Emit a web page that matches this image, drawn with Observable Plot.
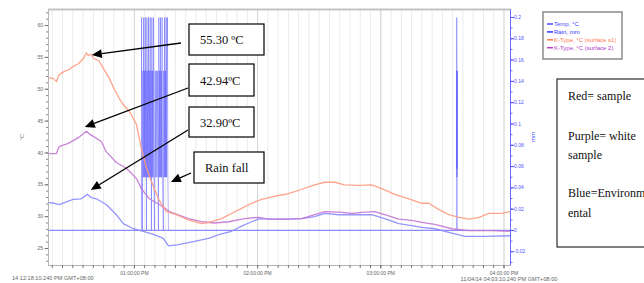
<!DOCTYPE html>
<html>
<head>
<meta charset="utf-8">
<script src="https://cdn.jsdelivr.net/npm/d3@7"></script>
<script src="https://cdn.jsdelivr.net/npm/@observablehq/plot@0.6"></script>
<style>
  html, body { margin: 0; padding: 0; background: #fff; }
  #chart svg { display: block; }
</style>
</head>
<body>
<div id="chart"></div>
<script>
// ---- Data (time = minutes after 12:00 PM, 11/04/14) ----
const startMin = 18.17;   // 12:18:10 PM
const endMin = 243.17;    // 04:03:10 PM

const redS1 = [ // K-Type, °C (surface s1)
  [18.5,51.8],[20.5,51.7],[22.0,51.2],[23.4,52.3],[25.9,52.8],[28.3,53.1],[30.2,53.6],[32.7,54.0],
  [35.1,54.8],[36.6,55.7],[37.6,55.3],[39.0,55.5],[40.0,54.9],[42.9,54.4],[45.0,53.2],[47.8,51.7],
  [50.2,50.0],[52.7,48.5],[55.0,47.4],[57.6,46.5],[61.0,44.5],[63.4,40.7],[65.9,37.6],[68.3,35.5],
  [71.7,32.8],[75.6,30.8],[80.5,30.3],[86.3,29.5],[92.7,28.9],[97.6,29.2],[102.4,29.7],[107.3,30.5],
  [112.2,31.3],[117.1,32.1],[122.0,32.7],[128.3,33.2],[135.1,33.6],[141.5,34.3],[147.8,35.0],
  [152.7,35.4],[157.6,35.4],[162.4,35.0],[169.3,34.9],[175.6,35.0],[180.5,34.4],[186.8,33.5],
  [193.7,32.8],[200.0,32.1],[203.4,32.1],[208.3,31.1],[213.2,30.3],[218.0,29.9],[222.9,29.6],
  [227.8,29.9],[232.7,30.5],[239.0,30.5],[243.1,30.8]
];
const purpleS2 = [ // K-Type, °C (surface 2)
  [18.5,39.9],[22.0,39.9],[23.4,41.0],[27.8,41.5],[32.7,42.4],[36.6,43.4],[38.0,43.0],[40.0,42.6],
  [43.9,41.8],[46.3,40.2],[51.2,38.5],[56.1,37.6],[61.0,36.0],[63.4,34.4],[67.3,32.8],[72.2,31.9],
  [77.1,30.8],[86.3,29.7],[92.7,29.2],[99.0,29.0],[105.9,29.2],[113.7,29.7],[120.5,29.9],[125.4,29.6],
  [135.1,29.6],[141.5,29.7],[147.8,30.3],[152.7,30.8],[159.5,30.7],[165.9,30.5],[172.2,30.7],
  [177.1,30.8],[181.9,30.3],[188.8,29.6],[195.1,29.4],[200.0,29.1],[206.3,28.8],[214.6,28.1],
  [222.9,27.8],[234.1,27.8],[243.1,27.7]
];
const blueTemp = [ // Temp, °C
  [18.5,32.2],[21.0,32.1],[23.4,31.9],[25.9,32.2],[30.2,32.7],[34.1,32.8],[37.1,33.5],[39.0,33.0],
  [41.5,32.8],[46.3,31.9],[51.2,30.3],[54.6,28.9],[59.5,28.1],[64.4,27.7],[69.3,27.2],[74.1,26.6],
  [76.6,25.4],[81.5,25.6],[89.3,26.1],[96.1,26.6],[101.5,27.2],[107.3,27.7],[112.2,28.5],[117.1,29.2],
  [121.0,29.7],[125.4,29.6],[133.2,29.6],[141.5,29.7],[147.8,30.0],[152.7,30.5],[159.5,30.3],
  [165.9,30.3],[175.6,30.3],[181.9,29.7],[188.8,28.9],[195.1,28.6],[200.0,28.3],[206.3,28.1],
  [214.6,27.4],[221.0,26.9],[230.7,26.9],[243.1,27.0]
];
const rain = [ // Rain, mm
  [18.17,0],[63.4,0],[63.5,0.2],[63.7,0.05],[63.9,0],[64.1,0.15],[64.3,0.05],[64.5,0.2],[64.7,0.05],
  [64.9,0.15],[65.1,0.05],[65.3,0.2],[65.5,0.05],[65.7,0.15],[65.9,0],[66.1,0.2],[66.3,0.05],
  [66.5,0.15],[66.7,0.05],[66.9,0.2],[67.1,0.05],[67.3,0.15],[67.5,0.05],[67.7,0.2],[67.9,0.05],
  [68.1,0.15],[68.3,0],[68.5,0.2],[68.7,0.05],[68.9,0.15],[69.1,0.05],[69.3,0.2],[69.5,0.05],
  [69.8,0],[70.1,0.15],[70.4,0.05],[70.7,0.15],[71.0,0.05],[71.3,0.15],[71.7,0],[71.9,0.2],
  [72.1,0.05],[72.3,0.15],[72.5,0.05],[72.7,0.2],[72.9,0.05],[73.1,0.15],[73.3,0.05],[73.5,0.2],
  [73.7,0.05],[74.1,0],[74.3,0.15],[74.5,0.05],[74.7,0.2],[74.9,0.05],[75.1,0.15],[75.3,0.05],
  [75.5,0.2],[75.7,0.05],[75.9,0.15],[76.1,0.2],[76.3,0.05],[76.6,0],[77.1,0],
  [216.9,0],[217.0,0.2],[217.05,0.05],[217.1,0.15],[217.15,0.058],[217.2,0.15],[217.25,0],[217.4,0],
  [243.17,0]
];

const leftTicks = [25,30,35,40,45,50,55,60];
const rainTicks = [-0.02,0,0.02,0.04,0.06,0.08,0.1,0.12,0.14,0.16,0.18,0.2];
const rainTickLabels = ["-0.02","0","0.02","0.04","0.06","0.08","0.1","0.12","0.14","0.16","0.18","0.2"];
const hourTicks = [60,120,180,240];
const hourLabels = ["01:00:00 PM","02:00:00 PM","03:00:00 PM","04:00:00 PM"];
const startLabel = "14 12:18:10.240 PM GMT+08:00";
const endLabel = "11/04/14 04:03:10.240 PM GMT+08:00";

const legendItems = [
  {label:"Temp, °C", color:"#4a4aff"},
  {label:"Rain, mm", color:"#3030ff"},
  {label:"K-Type, °C (surface s1)", color:"#ff7a55"},
  {label:"K-Type, °C (surface 2)", color:"#b040c8"}
];
const annotations = [
  {label:"55.30 ºC", t:39.5, v:55.3, rain:false},
  {label:"42.94ºC", t:36.1, v:44.0, rain:false},
  {label:"32.90ºC", t:39.0, v:34.1, rain:false},
  {label:"Rain fall", t:78.0, v:0.045, rain:true}
];
const noteLines = ["Red= sample","","Purple= white","sample","","Blue=Environm","ental"];

// ---- Scales helpers ----
const yDomain = [22.33, 62.52];
const rainToLeft = d3.scaleLinear().domain([-0.0329, 0.2075]).range(yDomain);
const rainLabelMap = new Map(rainTicks.map((r, i) => [rainToLeft(r), rainTickLabels[i]]));

const minor5 = d3.range(20, 244, 5);
const minorLeft = d3.range(23, 63, 1);
const minorRain = d3.range(-0.03, 0.2051, 0.01).map(rainToLeft);

const colRed = "#ff9a80", colPurple = "#c477d6", colBlue = "#8a8aff", colRain = "#3a3aff";

const chart = Plot.plot({
  width: 644, height: 283,
  marginLeft: 48, marginRight: 134, marginTop: 9, marginBottom: 18,
  style: {fontSize: "5px", fontFamily: "Liberation Sans, Arial, sans-serif", background: "#fff", overflow: "hidden"},
  x: {domain: [startMin, endMin], axis: null},
  y: {domain: yDomain, axis: null},
  marks: [
    Plot.ruleX(minor5, {stroke: "#ebebeb", strokeWidth: 1}),
    Plot.ruleX(hourTicks, {stroke: "#d6d6d6", strokeWidth: 1}),
    Plot.line(rain, {x: d => d[0], y: d => rainToLeft(d[1]), stroke: colRain, strokeWidth: 1, strokeOpacity: 0.38}),
    Plot.line(rain.filter(d => d[1] === 0), {x: d => d[0], y: () => rainToLeft(0), stroke: "#8c8cff", strokeWidth: 1.2}),
    Plot.line(blueTemp, {x: d => d[0], y: d => d[1], stroke: colBlue, strokeWidth: 1.3, strokeOpacity: 0.9}),
    Plot.line(purpleS2, {x: d => d[0], y: d => d[1], stroke: colPurple, strokeWidth: 1.3, strokeOpacity: 0.9}),
    Plot.line(redS1, {x: d => d[0], y: d => d[1], stroke: colRed, strokeWidth: 1.3, strokeOpacity: 0.9}),
    Plot.frame({stroke: "#b5b5b5", strokeWidth: 1}),
    Plot.ruleY([yDomain[1]], {stroke: "#c4c4c4", strokeWidth: 2}),
    Plot.ruleX([endMin], {stroke: "#6a6aff", strokeWidth: 1}),
    // left axis
    Plot.axisY(minorLeft, {anchor: "left", tickSize: 2, stroke: "#888", tickFormat: () => "", label: null}),
    Plot.axisY(leftTicks, {anchor: "left", tickSize: 3.5, tickPadding: 2, stroke: "#777", fill: "#666", label: null}),
    // right axis (rain)
    Plot.axisY(minorRain, {anchor: "right", tickSize: 1.5, stroke: "#6a6aff", tickFormat: () => "", label: null}),
    Plot.axisY(rainTicks.map(rainToLeft), {anchor: "right", tickSize: 3, tickPadding: 0.5, stroke: "#5050ff", fill: "#5050ff", tickFormat: v => rainLabelMap.get(v), label: null}),
    // bottom axis
    Plot.axisX(minor5, {anchor: "bottom", tickSize: 3, stroke: "#777", tickFormat: () => "", label: null}),
    Plot.axisX(hourTicks, {anchor: "bottom", tickSize: 3.5, tickPadding: 2, stroke: "#777", fill: "#666", tickFormat: (v) => hourLabels[hourTicks.indexOf(v)], label: null})
  ]
});
document.getElementById("chart").appendChild(chart);

// ---- Overlay: labels, annotations, legend, note box ----
const xs = chart.scale("x"), ys = chart.scale("y");
const svg = d3.select(chart);
const g = svg.append("g").attr("text-anchor", "start");

g.append("text").attr("x", 12).attr("y", 280).attr("text-anchor", "start").attr("font-size", 5.6).attr("fill", "#666").text(startLabel);
g.append("text").attr("x", 509).attr("y", 281).attr("text-anchor", "middle").attr("font-size", 5.6).attr("fill", "#666").text(endLabel);
g.append("text").attr("transform", "translate(24,137) rotate(-90)").attr("text-anchor", "middle").attr("font-size", 6).attr("fill", "#777").text("°C");
g.append("text").attr("transform", "translate(535,137) rotate(-90)").attr("text-anchor", "middle").attr("font-size", 6).attr("fill", "#5050ff").text("mm");

// annotation boxes
const boxes = [
  {x: 189, y: 24, w: 75, h: 31, from: [181, 43]},
  {x: 189, y: 64, w: 65, h: 32, from: [188, 88]},
  {x: 189, y: 107, w: 65, h: 30, from: [188, 130]},
  {x: 194, y: 152, w: 70, h: 31, from: [191, 173]}
];
const serif = "Liberation Serif, Times New Roman, serif";
annotations.forEach((a, i) => {
  const b = boxes[i];
  const tx = xs.apply(a.t);
  const ty = ys.apply(a.rain ? rainToLeft(a.v) : a.v);
  const [fx, fy] = b.from;
  const ang = Math.atan2(ty - fy, tx - fx);
  const L = 10, W = 4.5;
  const bx = tx - L * Math.cos(ang), by = ty - L * Math.sin(ang);
  g.append("line").attr("x1", fx).attr("y1", fy).attr("x2", bx).attr("y2", by)
    .attr("stroke", "#000").attr("stroke-width", 1.3);
  g.append("path").attr("d", `M${tx},${ty}L${bx + W*Math.sin(ang)},${by - W*Math.cos(ang)}L${bx - W*Math.sin(ang)},${by + W*Math.cos(ang)}Z`)
    .attr("fill", "#000");
  g.append("rect").attr("x", b.x).attr("y", b.y).attr("width", b.w).attr("height", b.h)
    .attr("fill", "#fff").attr("stroke", "#000").attr("stroke-width", 1.2);
  g.append("text").attr("x", b.x + 11).attr("y", b.y + b.h / 2 + 4.5).attr("text-anchor", "start")
    .attr("font-family", serif).attr("font-size", 12.5).attr("fill", "#111").text(a.label);
});

// legend
const lg = g.append("g");
lg.append("rect").attr("x", 543).attr("y", 12).attr("width", 79).attr("height", 47)
  .attr("fill", "#fff").attr("stroke", "#8a8a8a").attr("stroke-width", 1.5);
legendItems.forEach((d, i) => {
  const yy = 24 + i * 7.9;
  lg.append("line").attr("x1", 547).attr("x2", 553).attr("y1", yy).attr("y2", yy).attr("stroke", d.color).attr("stroke-width", 1.5);
  lg.append("text").attr("x", 554).attr("y", yy + 2).attr("text-anchor", "start").attr("font-size", 6).attr("fill", d.color).text(d.label);
});

// note box
const ng = g.append("g");
ng.append("rect").attr("x", 557).attr("y", 79).attr("width", 100).attr("height", 168)
  .attr("fill", "#fff").attr("stroke", "#000").attr("stroke-width", 1);
const noteY = [100, 0, 140, 159, 0, 197, 217];
noteLines.forEach((t, i) => {
  if (!t) return;
  ng.append("text").attr("x", 568).attr("y", noteY[i]).attr("text-anchor", "start")
    .attr("font-family", serif).attr("font-size", 12).attr("textLength", null).attr("fill", "#111").text(t);
});
</script>
</body>
</html>
